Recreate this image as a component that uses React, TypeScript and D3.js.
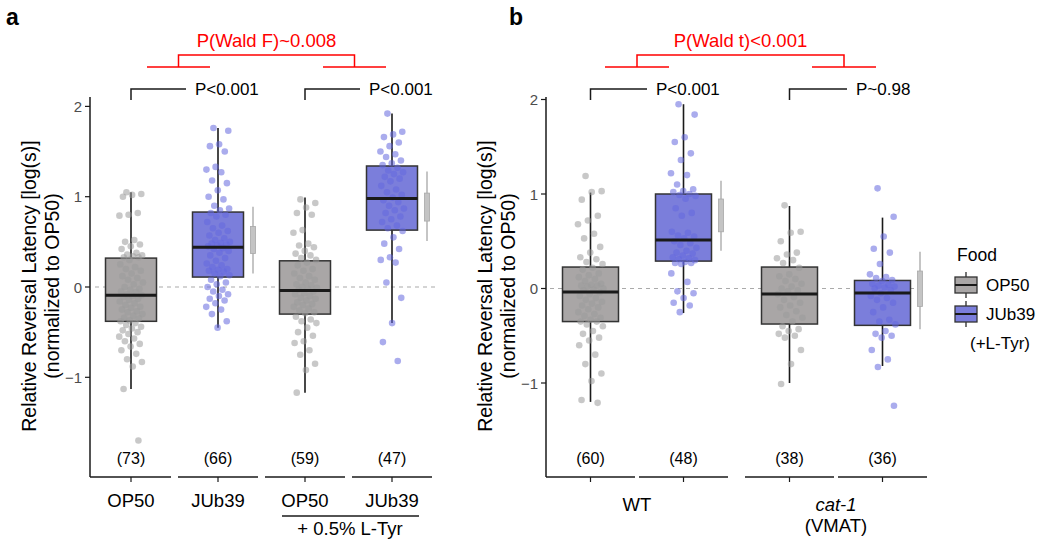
import React from "react";
import * as d3 from "d3";

// ---------- DATA ----------
const yTicks = [-1, 0, 1, 2];

// Panel a
const aCategories = ["OP50", "JUb39", "OP50 Tyr", "JUb39 Tyr"];
const aFood = ["OP50", "JUb39", "OP50", "JUb39"];
const aTickLabels = ["OP50", "JUb39", "OP50", "JUb39"];
const aCounts = ["(73)", "(66)", "(59)", "(47)"];
const aWhiskerLow = [-1.13, -0.45, -1.17, -0.4];
const aQ1 = [-0.38, 0.11, -0.3, 0.63];
const aMedian = [-0.09, 0.44, -0.04, 0.98];
const aQ3 = [0.32, 0.83, 0.29, 1.34];
const aWhiskerHigh = [1.05, 1.76, 0.99, 1.92];
// side summary (lo, innerLo, innerHi, hi) or null
const aSide: (number[] | null)[] = [null, [0.15, 0.37, 0.67, 0.89], null, [0.51, 0.73, 1.04, 1.28]];

const aPoints1 = [1.05, 1.03, 1.02, 1.0, 0.82, 0.8, 0.79, 0.52, 0.5, 0.47, 0.45, 0.42, 0.38, 0.36, 0.35, 0.34, 0.33, 0.33,
  0.3, 0.25, 0.22, 0.2, 0.18, 0.15, 0.12, 0.1, 0.08, 0.05, 0.03, 0.0, -0.02, -0.03, -0.05, -0.06, -0.08, -0.09,
  -0.1, -0.11, -0.13, -0.14, -0.16, -0.18, -0.2, -0.22, -0.23, -0.25, -0.27, -0.28, -0.3, -0.32, -0.34, -0.35, -0.37, -0.38,
  -0.4, -0.42, -0.44, -0.46, -0.48, -0.5, -0.52, -0.55, -0.57, -0.6, -0.63, -0.66, -0.7, -0.74, -0.8, -0.83, -0.88, -1.13, -1.7];
const aPoints2 = [1.76, 1.73, 1.58, 1.56, 1.5, 1.33, 1.3, 1.27, 1.18, 1.15, 1.07, 1.0, 0.97, 0.9, 0.87, 0.85,
  0.82, 0.8, 0.78, 0.72, 0.68, 0.65, 0.62, 0.6, 0.57, 0.54, 0.52, 0.5, 0.49, 0.48, 0.47, 0.46, 0.45,
  0.43, 0.42, 0.4, 0.38, 0.35, 0.32, 0.29, 0.26, 0.24, 0.22, 0.2, 0.19, 0.18, 0.17, 0.15, 0.13, 0.12,
  0.08, 0.05, 0.03, 0.0, -0.03, -0.05, -0.08, -0.1, -0.13, -0.15, -0.18, -0.22, -0.25, -0.3, -0.38, -0.45];
const aPoints3 = [0.97, 0.93, 0.88, 0.82, 0.8, 0.63, 0.6, 0.48, 0.46, 0.44, 0.4, 0.37, 0.35, 0.32, 0.3,
  0.27, 0.24, 0.2, 0.18, 0.15, 0.12, 0.1, 0.08, 0.05, 0.03, 0.02, 0.0, -0.01, -0.02, -0.03,
  -0.05, -0.07, -0.08, -0.1, -0.12, -0.13, -0.15, -0.17, -0.19, -0.2, -0.22, -0.24, -0.26, -0.28, -0.29,
  -0.33, -0.36, -0.38, -0.4, -0.45, -0.5, -0.54, -0.6, -0.62, -0.7, -0.75, -0.85, -0.92, -1.17];
const aPoints4 = [1.92, 1.72, 1.69, 1.66, 1.6, 1.56, 1.5, 1.47, 1.44, 1.4, 1.37, 1.35,
  1.32, 1.29, 1.27, 1.25, 1.22, 1.2, 1.17, 1.12, 1.08, 1.05, 1.02, 0.99,
  0.96, 0.94, 0.9, 0.87, 0.85, 0.82, 0.78, 0.75, 0.72, 0.68, 0.65,
  0.62, 0.55, 0.48, 0.42, 0.33, 0.3, 0.27, 0.05, -0.12, -0.4, -0.61, -0.82];
const aPoints = [aPoints1, aPoints2, aPoints3, aPoints4];

// Panel b
const bGroups = ["WT", "cat-1"];
const bCategories = ["WT OP50", "WT JUb39", "cat-1 OP50", "cat-1 JUb39"];
const bCatGroup = ["WT", "WT", "cat-1", "cat-1"];
const bFood = ["OP50", "JUb39", "OP50", "JUb39"];
const bCounts = ["(60)", "(48)", "(38)", "(36)"];
const bWhiskerLow = [-1.2, -0.26, -1.0, -0.82];
const bQ1 = [-0.35, 0.29, -0.376, -0.39];
const bMedian = [-0.037, 0.513, -0.058, -0.048];
const bQ3 = [0.227, 1.0, 0.227, 0.085];
const bWhiskerHigh = [1.015, 1.95, 0.873, 0.75];
const bSide: (number[] | null)[] = [null, [0.4, 0.6, 0.947, 1.14], null, [-0.43, -0.19, 0.185, 0.39]];

const bPoints1 = [1.19, 1.03, 1.02, 0.94, 0.77, 0.72, 0.68, 0.58, 0.53, 0.44, 0.38, 0.33, 0.31, 0.28, 0.26,
  0.22, 0.2, 0.16, 0.14, 0.12, 0.1, 0.08, 0.05, 0.04, 0.03, 0.03, 0.02, 0.0, -0.01, -0.02,
  -0.04, -0.06, -0.08, -0.1, -0.12, -0.14, -0.16, -0.18, -0.2, -0.22, -0.25, -0.27, -0.29, -0.31, -0.33,
  -0.35, -0.35, -0.38, -0.4, -0.45, -0.48, -0.52, -0.55, -0.6, -0.7, -0.8, -0.9, -0.98, -1.18, -1.21];
const bPoints2 = [1.95, 1.84, 1.6, 1.55, 1.43, 1.36, 1.22, 1.2, 1.1, 1.05, 1.03, 1.02,
  1.0, 0.99, 0.98, 0.95, 0.85, 0.8, 0.77, 0.6, 0.59, 0.56, 0.55, 0.53,
  0.5, 0.48, 0.46, 0.43, 0.4, 0.38, 0.37, 0.35, 0.33, 0.32, 0.31, 0.3,
  0.28, 0.27, 0.27, 0.26, 0.16, 0.07, -0.03, -0.05, -0.1, -0.15, -0.18, -0.25];
const bPoints3 = [0.88, 0.6, 0.59, 0.5, 0.38, 0.36, 0.32, 0.3, 0.27,
  0.22, 0.15, 0.13, 0.1, 0.08, 0.05, 0.02, 0.0, -0.02, -0.03,
  -0.06, -0.09, -0.12, -0.15, -0.18, -0.2, -0.24, -0.28, -0.31, -0.35,
  -0.4, -0.43, -0.45, -0.48, -0.5, -0.52, -0.65, -0.8, -1.01];
const bPoints4 = [1.06, 0.76, 0.55, 0.42, 0.38, 0.26, 0.15, 0.12, 0.11,
  0.09, 0.08, 0.05, 0.04, 0.03, 0.02, 0.01, 0.0, -0.02,
  -0.05, -0.08, -0.1, -0.12, -0.15, -0.2, -0.25, -0.33, -0.35,
  -0.38, -0.45, -0.48, -0.5, -0.52, -0.65, -0.75, -0.83, -1.24];
const bPoints = [bPoints1, bPoints2, bPoints3, bPoints4];

const legendFoods = ["OP50", "JUb39"];

// ---------- STYLE ----------
const FONT = "'Liberation Sans', Arial, Helvetica, sans-serif";
const fillBox: Record<string, string> = { OP50: "#a9a6a6", JUb39: "#7b7edb" };
const fillPt: Record<string, string> = { OP50: "#9a9a9a", JUb39: "#6468de" };
const RED = "#ff0000";
const DARK = "#1a1a1a";
const TICKGRAY = "#4d4d4d";

const jitter = (i: number, w: number) => (((i * 0.6180339887 + 0.31) % 1) - 0.5) * 2 * w;

interface PanelProps {
  centers: number[];
  food: string[];
  counts: string[];
  wl: number[]; q1: number[]; med: number[]; q3: number[]; wh: number[];
  side: (number[] | null)[];
  pts: number[][];
  y: d3.ScaleLinear<number, number>;
  axisX: number;
  segHalf: number;
  boxW: number;
  sideOff: number;
  jw: number;
  dashX: [number, number];
}

function Panel(p: PanelProps) {
  const { y } = p;
  const top = y.range()[1];
  const bottom = y.range()[0];
  return (
    <g>
      {/* y axis */}
      <line x1={p.axisX} x2={p.axisX} y1={top} y2={bottom} stroke={DARK} strokeWidth={1.5} />
      {yTicks.map((t) => (
        <g key={t}>
          <line x1={p.axisX - 5} x2={p.axisX} y1={y(t)} y2={y(t)} stroke={DARK} strokeWidth={1.2} />
          <text x={p.axisX - 8} y={y(t)} textAnchor="end" dominantBaseline="central" fontSize={15} fill={TICKGRAY}>
            {t < 0 ? "\u2212" + Math.abs(t) : t}
          </text>
        </g>
      ))}
      {/* zero dashed line */}
      <line x1={p.dashX[0]} x2={p.dashX[1]} y1={y(0)} y2={y(0)} stroke="#aaaaaa" strokeWidth={1.2} strokeDasharray="4,4" />
      {/* x axis segments */}
      {p.centers.map((c, i) => (
        <g key={"seg" + i}>
          <line x1={i === 0 ? p.axisX : c - p.segHalf} x2={c + p.segHalf} y1={bottom} y2={bottom} stroke={DARK} strokeWidth={1.5} />
          <line x1={c} x2={c} y1={bottom} y2={bottom + 5} stroke={DARK} strokeWidth={1.2} />
          <text x={c} y={458} textAnchor="middle" dominantBaseline="central" fontSize={16} fill="#000">{p.counts[i]}</text>
        </g>
      ))}
      {/* boxes */}
      {p.centers.map((c, i) => (
        <g key={"box" + i}>
          <line x1={c} x2={c} y1={y(p.wh[i])} y2={y(p.q3[i])} stroke={DARK} strokeWidth={1.6} />
          <line x1={c} x2={c} y1={y(p.q1[i])} y2={y(p.wl[i])} stroke={DARK} strokeWidth={1.6} />
          <rect x={c - p.boxW / 2} y={y(p.q3[i])} width={p.boxW} height={y(p.q1[i]) - y(p.q3[i])}
            fill={fillBox[p.food[i]]} stroke="#333" strokeWidth={1.5} />
        </g>
      ))}
      {/* points */}
      {p.pts.map((arr, i) =>
        arr.map((v, j) => (
          <circle key={"p" + i + "-" + j} cx={p.centers[i] + jitter(j, p.jw)} cy={y(v)} r={3.3}
            fill={fillPt[p.food[i]]} fillOpacity={0.55} />
        ))
      )}
      {/* medians */}
      {p.centers.map((c, i) => (
        <line key={"med" + i} x1={c - p.boxW / 2} x2={c + p.boxW / 2} y1={y(p.med[i])} y2={y(p.med[i])} stroke="#1a1a1a" strokeWidth={3} />
      ))}
      {/* side summaries */}
      {p.centers.map((c, i) => {
        const s = p.side[i];
        if (!s) return null;
        const sx = c + p.sideOff;
        return (
          <g key={"side" + i}>
            <line x1={sx} x2={sx} y1={y(s[3])} y2={y(s[0])} stroke="#a6a6a6" strokeWidth={1.3} />
            <rect x={sx - 2.5} y={y(s[2])} width={5} height={y(s[1]) - y(s[2])} fill="#c4c4c4" stroke="#a9a9a9" strokeWidth={0.8} />
          </g>
        );
      })}
    </g>
  );
}

function Bracket({ x1, x2, label }: { x1: number; x2: number; label: string }) {
  return (
    <g>
      <path d={`M${x1},100 V89 H${x2}`} fill="none" stroke={DARK} strokeWidth={1.5} />
      <text x={x2 + 9} y={89} dominantBaseline="central" fontSize={17} fill="#000">{label}</text>
    </g>
  );
}

function RedBracket({ l1, l2, r1, r2, label }: { l1: number; l2: number; r1: number; r2: number; label: string }) {
  const lm = (l1 + l2) / 2;
  const rm = (r1 + r2) / 2;
  return (
    <g>
      <line x1={l1} x2={l2} y1={67} y2={67} stroke={RED} strokeWidth={1.5} />
      <line x1={r1} x2={r2} y1={67} y2={67} stroke={RED} strokeWidth={1.5} />
      <path d={`M${lm},67 V55 H${rm} V67`} fill="none" stroke={RED} strokeWidth={1.5} />
      <text x={(lm + rm) / 2} y={40} textAnchor="middle" dominantBaseline="central" fontSize={18.5} fill={RED}>{label}</text>
    </g>
  );
}

function YTitle({ cx, cy }: { cx: number; cy: number }) {
  return (
    <g transform={`translate(${cx},${cy}) rotate(-90)`}>
      <text x={0} y={0} textAnchor="middle" dominantBaseline="central" fontSize={19.5} fill="#000">Relative Reversal Latency [log(s)]</text>
      <text x={0} y={23} textAnchor="middle" dominantBaseline="central" fontSize={19.5} fill="#000">(normalized to OP50)</text>
    </g>
  );
}

export default function App() {
  const yA = d3.scaleLinear().domain([-2.104, 2.104]).range([477, 97]);
  const yB = d3.scaleLinear().domain([(288.5 - 477) / 94.5, (288.5 - 97) / 94.5]).range([477, 97]);

  const xA = d3.scalePoint<string>().domain(aCategories).range([131, 392]);
  const aCenters = aCategories.map((c) => xA(c) as number);

  const xBG = d3.scalePoint<string>().domain(bGroups).range([637, 836]);
  const bCenters = bCategories.map((c, i) => (xBG(bCatGroup[i]) as number) + (bFood[i] === "OP50" ? -46.5 : 46.5));

  return (
    <svg width={1050} height={546} style={{ display: "block", position: "absolute", left: 0, top: 0, fontFamily: FONT }} fontFamily={FONT}>
      <rect width={1050} height={546} fill="#fff" />
      {/* panel labels */}
      <text x={6} y={25} fontSize={23} fontWeight="bold" fill="#000">a</text>
      <text x={509} y={25} fontSize={23} fontWeight="bold" fill="#000">b</text>

      {/* Panel a */}
      <YTitle cx={29} cy={286} />
      <Panel centers={aCenters} food={aFood} counts={aCounts} wl={aWhiskerLow} q1={aQ1} med={aMedian} q3={aQ3}
        wh={aWhiskerHigh} side={aSide} pts={aPoints} y={yA} axisX={90} segHalf={40} boxW={51} sideOff={35} jw={12}
        dashX={[95, 435]} />
      {aCenters.map((c, i) => (
        <text key={"al" + i} x={c} y={500} textAnchor="middle" dominantBaseline="central" fontSize={18.5} fill="#000">{aTickLabels[i]}</text>
      ))}
      <line x1={282} x2={419} y1={516} y2={516} stroke={DARK} strokeWidth={1.5} />
      <text x={350} y={528} textAnchor="middle" dominantBaseline="central" fontSize={18.5} fill="#000">+ 0.5% L-Tyr</text>
      <Bracket x1={aCenters[0]} x2={186} label="P<0.001" />
      <Bracket x1={aCenters[2]} x2={360} label="P<0.001" />
      <RedBracket l1={147} l2={210} r1={323} r2={386} label="P(Wald F)~0.008" />

      {/* Panel b */}
      <YTitle cx={485} cy={286} />
      <Panel centers={bCenters} food={bFood} counts={bCounts} wl={bWhiskerLow} q1={bQ1} med={bMedian} q3={bQ3}
        wh={bWhiskerHigh} side={bSide} pts={bPoints} y={yB} axisX={546} segHalf={44.5} boxW={56} sideOff={37.5} jw={13}
        dashX={[550, 925]} />
      <text x={xBG("WT") as number} y={504} textAnchor="middle" dominantBaseline="central" fontSize={18.5} fill="#000">WT</text>
      <text x={xBG("cat-1") as number} y={504} textAnchor="middle" dominantBaseline="central" fontSize={18.5} fontStyle="italic" fill="#000">cat-1</text>
      <text x={xBG("cat-1") as number} y={525} textAnchor="middle" dominantBaseline="central" fontSize={18.5} fill="#000">(VMAT)</text>
      <Bracket x1={bCenters[0]} x2={647} label="P<0.001" />
      <Bracket x1={bCenters[2]} x2={847} label="P~0.98" />
      <RedBracket l1={605} l2={669} r1={812} r2={876} label="P(Wald t)<0.001" />

      {/* Legend */}
      <text x={957} y={255} dominantBaseline="central" fontSize={17.5} fill="#000">Food</text>
      {legendFoods.map((f, i) => {
        const ky = 277 + i * 29;
        return (
          <g key={"lg" + f}>
            <line x1={966} x2={966} y1={ky - 5} y2={ky + 21} stroke={DARK} strokeWidth={1.2} />
            <rect x={955} y={ky} width={22} height={16} fill={fillBox[f]} stroke="#333" strokeWidth={1.3} />
            <line x1={955} x2={977} y1={ky + 8} y2={ky + 8} stroke="#1a1a1a" strokeWidth={2} />
            <text x={986} y={ky + 8} dominantBaseline="central" fontSize={17} fill="#000">{f}</text>
          </g>
        );
      })}
      <text x={970} y={343} dominantBaseline="central" fontSize={17} fill="#000">(+L-Tyr)</text>
    </svg>
  );
}
